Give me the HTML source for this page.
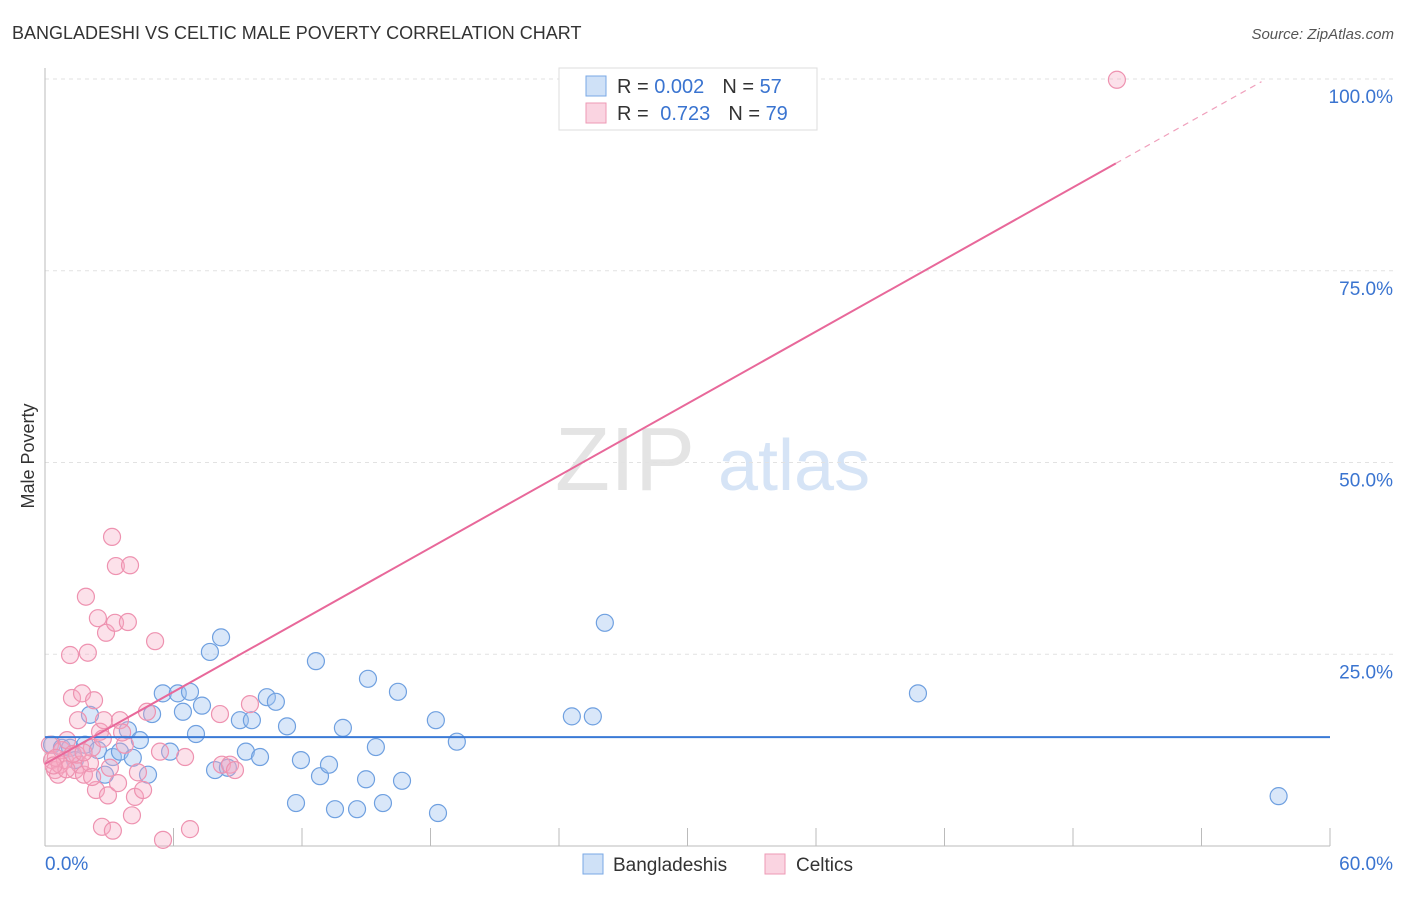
<!DOCTYPE html>
<html><head><meta charset="utf-8"><style>
body{margin:0;background:#fff;font-family:"Liberation Sans",sans-serif;}
svg text{font-family:"Liberation Sans",sans-serif;}
</style></head><body>
<svg id="chart" width="1406" height="892">
<text x="12" y="39" font-size="18" fill="#333">BANGLADESHI VS CELTIC MALE POVERTY CORRELATION CHART</text>
<text x="1394" y="39" font-size="15" fill="#555" font-style="italic" text-anchor="end">Source: ZipAtlas.com</text>
<text x="34" y="456" font-size="18" fill="#333" transform="rotate(-90 34 456)" text-anchor="middle">Male Poverty</text>
<text x="555" y="490" font-size="90" fill="#e4e4e4" font-family="Liberation Serif">ZIP</text>
<text x="718" y="490" font-size="72" fill="#d6e4f6">atlas</text>
<g id="grid"></g><g id="axes"></g><g id="pts"></g><g id="lines"></g>
<g>
<rect x="559" y="68" width="258" height="62" fill="#fff" stroke="#ddd"/>
<rect x="586" y="76" width="20" height="20" fill="rgba(160,196,240,0.5)" stroke="#7aa8e6"/>
<rect x="586" y="103" width="20" height="20" fill="rgba(245,170,195,0.5)" stroke="#ee9ab5"/>
<text x="617" y="93" font-size="20" fill="#333">R = <tspan fill="#3a74d0">0.002</tspan><tspan dx="18">N = </tspan><tspan fill="#3a74d0">57</tspan></text>
<text x="617" y="120" font-size="20" fill="#333">R = <tspan dx="6" fill="#3a74d0">0.723</tspan><tspan dx="18">N = </tspan><tspan fill="#3a74d0">79</tspan></text>
</g>
<g>
<rect x="583" y="854" width="20" height="20" fill="rgba(160,196,240,0.5)" stroke="#7aa8e6"/>
<text x="613" y="871" font-size="19" fill="#333">Bangladeshis</text>
<rect x="765" y="854" width="20" height="20" fill="rgba(245,170,195,0.5)" stroke="#ee9ab5"/>
<text x="796" y="871" font-size="19" fill="#333">Celtics</text>
</g>
</svg>
<script>
const yTicks=[25,50,75,100];
const xTicks=[0,6,12,18,24,30,36,42,48,54,60];
const blueX=[0.33,0.79,1.17,1.4,1.87,2.1,2.47,2.8,3.17,3.5,3.87,4.1,4.43,4.81,5.0,5.5,5.84,6.2,6.44,6.77,7.05,7.33,7.7,7.94,8.22,8.54,9.1,9.38,9.66,10.04,10.36,10.78,11.3,11.72,11.95,12.65,12.84,13.26,13.54,13.91,14.57,14.99,15.08,15.45,15.78,16.48,16.67,18.25,18.35,19.23,24.6,25.58,26.14,40.76,57.6];
const blueY=[13.2,12.8,12.8,11.2,13.2,17.1,12.5,9.3,11.6,12.3,15.1,11.5,13.8,9.3,17.2,19.9,12.3,19.9,17.5,20.1,14.6,18.3,25.3,9.9,27.2,10.2,16.4,12.3,16.4,11.6,19.4,18.8,15.6,5.6,11.2,24.1,9.1,10.6,4.8,15.4,4.8,8.7,21.8,12.9,5.6,20.1,8.5,16.4,4.3,13.6,16.9,16.9,29.1,19.9,6.5];
const pinkX=[0.23,0.33,0.47,0.61,0.7,0.79,0.93,1.03,1.17,1.26,1.4,1.49,1.54,1.63,1.73,1.82,1.91,2.0,2.1,2.19,2.29,2.38,2.47,2.57,2.66,2.75,2.85,2.94,3.03,3.13,3.17,3.27,3.31,3.41,3.5,3.73,3.87,3.97,4.06,4.2,4.34,4.58,4.76,5.14,5.37,5.51,6.54,6.77,8.17,8.26,8.64,8.87,9.57,50.05,0.5,1.0,1.3,0.4,1.8,2.2,3.6,2.7];
const pinkY=[13.2,11.2,9.9,9.3,10.6,12.5,11.2,13.8,24.9,19.3,9.9,11.9,16.4,10.6,19.9,9.3,32.5,25.2,10.8,12.8,19.0,7.3,29.7,14.9,2.5,16.4,27.8,6.6,10.2,40.3,2.0,29.1,36.5,8.2,16.4,13.2,29.2,36.6,4.0,6.4,9.6,7.3,17.5,26.7,12.3,0.8,11.6,2.2,17.2,10.6,10.6,9.9,18.5,99.9,11.5,10.0,12.0,10.5,12.2,9.0,14.8,14.0];
const blueTrend=[14.2,14.2];
const pinkIntercept=10.7, pinkSlope=1.566;
const X=v=>45+v*(1285/60), Y=v=>846-v*(767/100);
const NS="http://www.w3.org/2000/svg";
function mk(p,t,a){const e=document.createElementNS(NS,t);for(const k in a)e.setAttribute(k,a[k]);document.getElementById(p).appendChild(e);return e;}
yTicks.forEach(t=>{
 const g=mk('grid','line',{x1:45,x2:1394,y1:Y(t),y2:Y(t),stroke:'#e2e2e2','stroke-dasharray':'4,4'});
 
 
 const l=mk('grid','text',{x:1393,y:Y(t)+24,'font-size':19,fill:'#3a74d0','text-anchor':'end'});l.textContent=t.toFixed(1)+'%';
 
 
});
mk('axes','line',{x1:45,x2:45,y1:68,y2:846,stroke:'#bbb'});
mk('axes','line',{x1:45,x2:1330,y1:846,y2:846,stroke:'#bbb'});
xTicks.forEach(t=>{const e=mk('axes','line',{x1:X(t),x2:X(t),y1:828,y2:846,stroke:'#bbb'});
 
 });
[[0,'0.0%','start',45],[60,'60.0%','end',1393]].forEach(a=>{const e=mk('axes','text',{x:a[3],y:870,'font-size':19,fill:'#3a74d0','text-anchor':a[2]});e.textContent=a[1];
 
 });
blueX.forEach((x,i)=>{const c=mk('pts','circle',{cx:X(x),cy:Y(blueY[i]),r:8.5,fill:'rgba(160,196,240,0.4)',stroke:'#6fa0e0','stroke-width':1.2});
 
 });
pinkX.forEach((x,i)=>{const c=mk('pts','circle',{cx:X(x),cy:Y(pinkY[i]),r:8.5,fill:'rgba(245,170,195,0.35)',stroke:'#ee92b0','stroke-width':1.2});
 
 });
const bl=mk('lines','line',{x1:X(0),x2:X(60),y1:Y(blueTrend[0]),y2:Y(blueTrend[1]),stroke:'#3a7ad6','stroke-width':2});


const pl=mk('lines','line',{x1:X(0),x2:X(50),y1:Y(pinkIntercept),y2:Y(pinkIntercept+pinkSlope*50),stroke:'#e8689a','stroke-width':2});


const pd=mk('lines','line',{x1:X(50),x2:X(56.8),y1:Y(pinkIntercept+pinkSlope*50),y2:Y(pinkIntercept+pinkSlope*56.8),stroke:'#f0a0bc','stroke-width':1.2,'stroke-dasharray':'6,5'});


</script>
</body></html>
